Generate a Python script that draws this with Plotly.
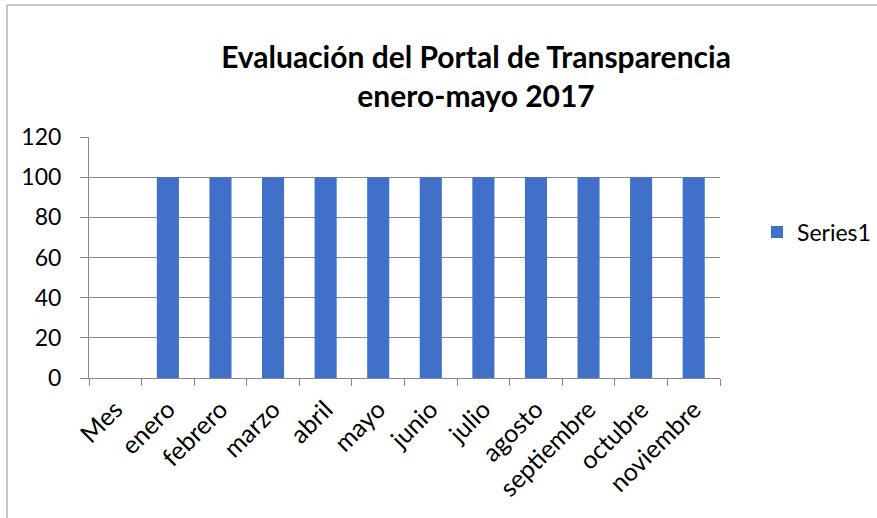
import plotly.graph_objects as go

categories = ["Mes", "enero", "febrero", "marzo", "abril", "mayo", "junio",
              "julio", "agosto", "septiembre", "octubre", "noviembre"]
series1 = [None, 100, 100, 100, 100, 100, 100, 100, 100, 100, 100, 100]
series_name = "Series1"
title_lines = ["Evaluación del Portal de Transparencia", "enero-mayo 2017"]
y_ticks = [0, 20, 40, 60, 80, 100, 120]

FONT = "Lato, 'Open Sans', sans-serif"
AXIS_GRAY = "#898989"

fig = go.Figure()
fig.add_trace(go.Bar(
    x=categories, y=series1, name=series_name,
    marker=dict(color="#4170C8", line=dict(width=0)),
    showlegend=True,
))

fig.update_layout(
    width=877, height=518,
    margin=dict(l=89, r=157, t=137, b=140, autoexpand=False),
    paper_bgcolor="white", plot_bgcolor="white",
    font=dict(family=FONT, size=23, color="#000000"),
    bargap=0.58,
    title=dict(
        text="<b>" + "<br>".join(title_lines) + "</b>",
        x=476 / 877, xref="container", xanchor="center",
        y=1 - 68 / 518, yref="container", yanchor="top",
        font=dict(family=FONT, size=30, color="#000000"),
    ),
    legend=dict(
        x=(757 - 89) / 631, y=(378 - 232) / 241,
        xanchor="left", yanchor="middle",
        font=dict(family=FONT, size=23),
        bgcolor="rgba(0,0,0,0)",
    ),
    xaxis=dict(
        type="category", automargin=False,
        showline=True, linecolor=AXIS_GRAY, linewidth=1,
        ticks="outside", tickson="boundaries", ticklen=7,
        tickcolor=AXIS_GRAY, tickangle=-45,
        tickfont=dict(family=FONT, size=25),
        ticklabelstandoff=6,
        showgrid=False, zeroline=False,
    ),
    yaxis=dict(
        range=[0, 120], tickvals=y_ticks, automargin=False,
        showline=True, linecolor=AXIS_GRAY, linewidth=1,
        ticks="outside", ticklen=8, tickcolor=AXIS_GRAY,
        ticklabelstandoff=14,
        showgrid=True, gridcolor=AXIS_GRAY, gridwidth=1,
        zeroline=False,
    ),
    shapes=[
        dict(type="line", xref="paper", yref="paper",
             x0=(7 - 89) / 631, x1=(7 - 89) / 631,
             y0=(378 - 530) / 241, y1=(378 - 5) / 241,
             line=dict(color="#b4b4b4", width=1.5)),
        dict(type="line", xref="paper", yref="paper",
             x0=(7 - 89) / 631, x1=(890 - 89) / 631,
             y0=(378 - 5) / 241, y1=(378 - 5) / 241,
             line=dict(color="#b4b4b4", width=1.5)),
    ],
)

fig.write_html(
    "out.html",
    config={"displayModeBar": False},
    post_script="document.body.style.margin='0';document.body.style.overflow='hidden';",
)
